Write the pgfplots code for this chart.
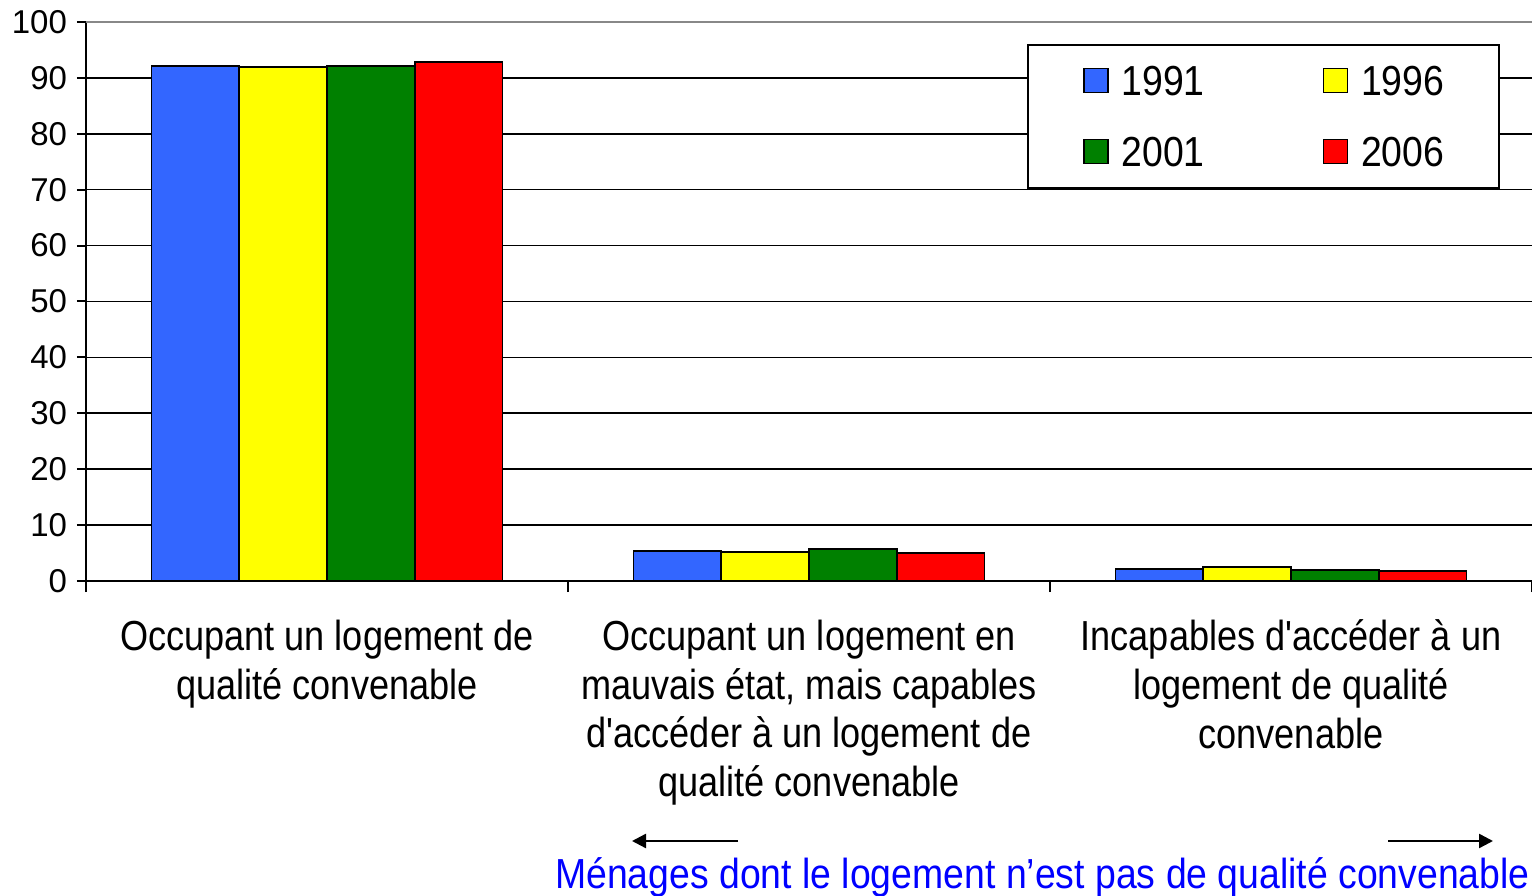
\documentclass[border=0pt]{standalone}
\usepackage{fontspec}
\setmainfont{Liberation Sans}
\newfontfamily\condfont[FakeStretch=0.86]{Liberation Sans}
\newfontfamily\legfont[FakeStretch=0.89]{Liberation Sans}
\usepackage{pgfplots}
\pgfplotsset{compat=1.18}
\usetikzlibrary{arrows.meta}
\definecolor{cblue}{HTML}{3366FF}
\definecolor{cyellow}{HTML}{FFFF00}
\definecolor{cgreen}{HTML}{008000}
\definecolor{cred}{HTML}{FF0000}
\definecolor{ctext}{HTML}{0000FF}
\definecolor{cgray}{HTML}{888888}
\begin{document}
\begin{tikzpicture}
\useasboundingbox (0,0) rectangle (766bp,448bp);
\begin{axis}[
  at={(43bp,157.5bp)}, anchor=south west,
  scale only axis, width=723bp, height=279.5bp,
  xmin=-0.5, xmax=2.5, ymin=0, ymax=100,
  ybar=0pt, bar width=0.182,
  axis x line*=bottom, axis y line*=left,
  axis line style={-, line width=1bp, black},
  xtick={0,1,2},
  xticklabels={{Occupant un logement de\\qualité convenable},{Occupant un logement en\\mauvais état, mais capables\\d'accéder à un logement de\\qualité convenable},{Incapables d'accéder à un\\logement de qualité\\convenable}},
  major x tick style={draw=none},
  minor xtick={-0.5,0.5,1.5,2.5},
  minor x tick style={black, line width=1bp},
  minor tick length=5.5bp,
  ytick={0,10,...,100},
  yticklabel={\fontsize{16.5bp}{18bp}\selectfont\pgfmathprintnumber[assume math mode=true]{\tick}},
  y tick label style={xshift=-1.5bp},
  major tick length=4.5bp,
  major y tick style={black, line width=1bp},
  tick align=outside,
  ymajorgrids, major grid style={black, line width=0.8bp},
  /pgf/number format/assume math mode=true,
  x tick label style={font=\condfont\fontsize{21bp}{24.3bp}\selectfont, align=center, anchor=north, yshift=-11.5bp},
  legend columns=2,
  legend image code/.code={\draw[#1, draw=black, line width=0.7bp] (0bp,-6bp) rectangle (12bp,6bp);},
  legend style={at={(0.978,0.961)}, anchor=north east, draw=black, line width=0.9bp,
    font=\legfont\fontsize{21bp}{24bp}\selectfont,
    inner xsep=27.5bp, inner ysep=10.5bp,
    nodes={inner sep=0pt, text height=15bp, text depth=0pt},
    row sep=20.5bp,
    /tikz/every odd column/.append style={column sep=6.5bp},
    /tikz/every even column/.append style={column sep=59bp}},
  every axis plot/.append style={draw=black, line width=0.9bp},
]
\draw[cgray, line width=1.2bp] (axis cs:-0.5,100) -- (axis cs:2.5,100);
\addplot[fill=cblue] coordinates {(0,92.1) (1,5.4) (2,2.1)};
\addplot[fill=cyellow] coordinates {(0,92.0) (1,5.2) (2,2.45)};
\addplot[fill=cgreen] coordinates {(0,92.1) (1,5.7) (2,2.0)};
\addplot[fill=cred] coordinates {(0,92.8) (1,5.0) (2,1.8)};
\legend{1991,1996,2001,2006}
\end{axis}
\draw[line width=1.2bp, -{Triangle[length=7bp,width=7bp]}] (369bp,27.5bp) -- (316bp,27.5bp);
\draw[line width=1.2bp, -{Triangle[length=7bp,width=7bp]}] (694bp,27.5bp) -- (746.5bp,27.5bp);
\node[anchor=base, text=ctext, inner sep=0pt, font=\legfont\fontsize{21bp}{24bp}\selectfont] at (521.25bp,4bp) {Ménages dont le logement n’est pas de qualité convenable};
\end{tikzpicture}
\end{document}
